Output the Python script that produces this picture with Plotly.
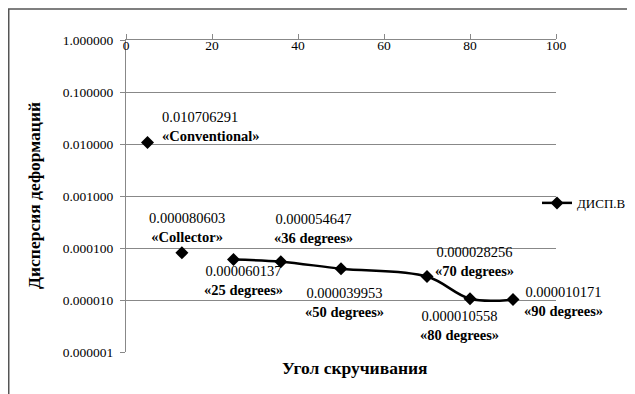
import math
import plotly.graph_objects as go

# ---- data ----
angles = [5, 13, 25, 36, 50, 70, 80, 90]
dispersion = [0.010706291, 0.000080603, 0.000060137, 0.000054647,
              0.000039953, 0.000028256, 0.000010558, 0.000010171]
point_names = ["«Conventional»", "«Collector»", "«25 degrees»", "«36 degrees»",
               "«50 degrees»", "«70 degrees»", "«80 degrees»", "«90 degrees»"]
value_texts = ["0.010706291", "0.000080603", "0.000060137", "0.000054647",
               "0.000039953", "0.000028256", "0.000010558", "0.000010171"]
# points that stand alone (not joined by the line)
standalone = [True, True, False, False, False, False, False, False]

y_tickvals = [1e-6, 1e-5, 1e-4, 1e-3, 1e-2, 1e-1, 1]
y_ticktext = ["0.000001", "0.000010", "0.000100", "0.001000",
              "0.010000", "0.100000", "1.000000"]
x_tickvals = [0, 20, 40, 60, 80, 100]

series_name = "ДИСП.В"
x_title = "Угол скручивания"
y_title = "Дисперсия деформаций"

# ---- build trace with gaps so standalone points are not connected ----
xs, ys = [], []
for a, d, s in zip(angles, dispersion, standalone):
    xs.append(a)
    ys.append(d)
    if s:
        xs.append(None)
        ys.append(None)

FONT = "Liberation Serif"

fig = go.Figure()
fig.add_trace(go.Scatter(
    x=xs, y=ys, name=series_name, mode="lines+markers",
    connectgaps=False,
    line=dict(color="black", width=2.5, shape="spline", smoothing=1),
    marker=dict(symbol="diamond", size=10, color="black"),
    showlegend=True,
))

# label placement (pixel offsets from each point)
label_shift = [(12, 16, "left"), (5, 25, "center"), (10, -21, "center"),
               (33, 33, "center"), (3, -34, "center"), (47, 15, "center"),
               (-11, -27, "center"), (50, -2, "center")]

annotations = []
for a, d, v, n, (dx, dy, anc) in zip(angles, dispersion, value_texts, point_names, label_shift):
    annotations.append(dict(
        x=a, y=math.log10(d), xref="x", yref="y",
        text=f"{v}<br><b>{n}</b>", showarrow=False,
        xanchor=anc, yanchor="middle", align="left" if anc == "left" else "center",
        xshift=dx, yshift=dy,
        font=dict(family=FONT, size=14.5, color="black"),
    ))

annotations.append(dict(
    x=0.5326, y=-0.0513, xref="paper", yref="paper", yanchor="middle",
    text=f"<b>{x_title}</b>", showarrow=False,
    font=dict(family=FONT, size=17.5, color="black"),
))
annotations.append(dict(
    x=-0.214, y=0.503, xref="paper", yref="paper", textangle=-90,
    xanchor="center", yanchor="middle",
    text=f"<b>{y_title}</b>", showarrow=False,
    font=dict(family=FONT, size=17.5, color="black"),
))

fig.update_layout(
    width=627, height=386,
    margin=dict(l=118, r=79, t=32, b=42, autoexpand=False),
    paper_bgcolor="white", plot_bgcolor="white",
    font=dict(family=FONT, size=13.5, color="black"),
    annotations=annotations,
    showlegend=True,
    legend=dict(xref="container", yref="container",
                x=0.8437, y=0.495, xanchor="left", yanchor="middle",
                font=dict(family=FONT, size=13, color="black"),
                bgcolor="rgba(0,0,0,0)", itemwidth=30, borderwidth=0),
    shapes=[dict(type="rect", xref="paper", yref="paper",
                 x0=-0.2727, x1=1.6, y0=-0.5, y1=1.0994,
                 line=dict(color="#555555", width=1.5))],
)

fig.update_xaxes(
    range=[0, 100], side="top", tickvals=x_tickvals,
    ticks="outside", ticklen=5, tickcolor="#888888",
    ticklabelposition="inside", ticklabeloverflow="allow",
    showline=True, linecolor="#888888", linewidth=1,
    showgrid=False, zeroline=False,
    tickfont=dict(family=FONT, size=13.5, color="black"),
)
fig.update_yaxes(
    type="log", range=[-6, 0], tickvals=y_tickvals, ticktext=y_ticktext,
    ticks="outside", ticklen=5, tickcolor="#888888", ticklabeloverflow="allow",
    ticklabelstandoff=4,
    showline=True, linecolor="#888888", linewidth=1,
    showgrid=True, gridcolor="#888888", gridwidth=1, zeroline=False,
    tickfont=dict(family=FONT, size=13.5, color="black"),
)

fig.write_html("out.html")
